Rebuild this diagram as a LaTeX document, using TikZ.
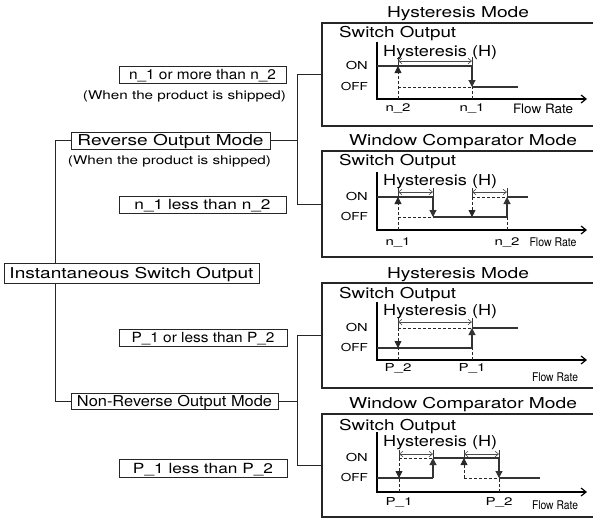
\documentclass[tikz,border=0pt]{standalone}
\usepackage{fontspec}
\setmainfont{TeX Gyre Heros}
\usepackage{graphicx}
\usetikzlibrary{arrows.meta}
\newcommand\tw[3]{{\fontsize{#1}{#1}\selectfont\resizebox{#2pt}{\height}{#3}}}
\begin{document}
\begin{tikzpicture}[x=1pt,y=-1pt,
  box/.style={draw=black!85,line width=1pt,fill=white,inner sep=0pt},
  pbox/.style={draw=black!85,line width=1.1pt,inner sep=0pt,minimum width=300pt},
  capA/.style={inner sep=0pt,text height=10.8pt,text depth=0pt},
  capB/.style={inner sep=0pt,text height=10pt,text depth=0pt},
  capC/.style={inner sep=0pt,text height=8.6pt,text depth=0pt},
  capD/.style={inner sep=0pt,text height=7.9pt,text depth=0pt},
  conn/.style={line width=1pt,black!85},
  axisline/.style={line width=1.2pt,black,-{Straight Barb[length=5pt,width=8pt]}},
  lvl/.style={line width=1.1pt,black!80},
  dsh/.style={line width=0.8pt,black!85,dash pattern=on 3pt off 2pt},
  arrowend/.style={-{Triangle[length=7pt,width=7pt]}},
  tickline/.style={line width=0.6pt,black!80},
  hy/.style={line width=0.6pt,black!70,{Straight Barb[length=3.5pt,width=5.5pt]}-{Straight Barb[length=3.5pt,width=5.5pt]}}
]
\clip (0,0) rectangle (593,520);
\fill[white] (0,0) rectangle (593,520);

% ---------- left tree ----------
\node[box,minimum width=167pt,minimum height=17pt,capB] (na) at (202.5,74.5) {\tw{14}{147}{n\_1 or more than n\_2}};
\node[capC] (wa) at (184.5,95) {\tw{12}{203}{(When the product is shipped)}};
\node[box,minimum width=199pt,minimum height=17pt,capA] (rev) at (170.5,140.5) {\tw{15}{186}{Reverse Output Mode}};
\node[capC] (wb) at (169.5,160) {\tw{12}{203}{(When the product is shipped)}};
\node[box,minimum width=167pt,minimum height=17pt,capB] (nb) at (202.5,204.5) {\tw{14}{136}{n\_1 less than n\_2}};
\node[box,minimum width=255pt,minimum height=20pt,capA] (inst) at (131.5,273.5) {\tw{15}{244}{Instantaneous Switch Output}};
\node[box,minimum width=168pt,minimum height=17pt,capB] (pa) at (203,337.5) {\tw{14}{143}{P\_1 or less than P\_2}};
\node[box,minimum width=207pt,minimum height=16pt,capA] (nrev) at (174.5,401) {\tw{15}{195}{Non-Reverse Output Mode}};
\node[box,minimum width=168pt,minimum height=18pt,capB] (pb) at (203,468) {\tw{14}{140}{P\_1 less than P\_2}};

% ---------- panels ----------
\node[pbox,minimum height=103pt] (p1) at (472,74.5) {};
\node[pbox,minimum height=106pt] (p2) at (472,204) {};
\node[pbox,minimum height=105pt] (p3) at (472,335.5) {};
\node[pbox,minimum height=103pt] (p4) at (472,465.5) {};

% ---------- connectors ----------
\coordinate (tx) at (55,0);
\coordinate (jx) at (297,0);
\draw[conn] (rev.west) -- (rev.west -| tx) -- (tx |- inst.north);
\draw[conn] (nrev.west) -- (nrev.west -| tx) -- (tx |- inst.south);
\draw[conn] (rev.east) -- (rev.east -| jx);
\draw[conn] (p1.west) -- (p1.west -| jx) -- (p2.west -| jx) -- (p2.west);
\draw[conn] (nrev.east) -- (nrev.east -| jx);
\draw[conn] (p3.west) -- (p3.west -| jx) -- (p4.west -| jx) -- (p4.west);

% ---------- panel 1 : Hysteresis Mode (reverse) ----------
\node[capA] (t1) at (458,12) {\tw{15}{142}{Hysteresis Mode}};
\node[capA,anchor=west] (s1) at (339,32) {\tw{15}{117}{Switch Output}};
\node[capA,anchor=west] (h1) at (383,51) {\tw{15}{114}{Hysteresis (H)}};
\node[capD,anchor=east] (on1) at (368,66) {\tw{11}{22}{ON}};
\node[capD,anchor=east] (of1) at (368,87) {\tw{11}{27}{OFF}};
\node[capD] (x1a) at (398,108) {\tw{11}{25}{n\_2}};
\node[capD] (x1b) at (472,108) {\tw{11}{25}{n\_1}};
\node[capB] (f1) at (543,108) {\tw{13}{60}{Flow Rate}};
\draw[axisline] (377,42) -- (377,99) -- (587,99);
\draw[lvl] (377,66) -- (472,66);
\draw[lvl,arrowend] (472,66) -- (472,87);
\draw[lvl] (472,87) -- (518,87);
\draw[dsh,arrowend] (398,99) -- (398,66);
\draw[dsh] (398,87) -- (472,87);
\draw[dsh] (472,99) -- (472,87);
\draw[tickline] (398,57) -- (398,66);
\draw[tickline] (472,57) -- (472,66);
\draw[hy] (398,61) -- (472,61);

% ---------- panel 2 : Window Comparator Mode (reverse) ----------
\node[capA] (t2) at (463,140) {\tw{15}{228}{Window Comparator Mode}};
\node[capA,anchor=west] (s2) at (339,160) {\tw{15}{117}{Switch Output}};
\node[capA,anchor=west] (h2) at (383,180) {\tw{15}{114}{Hysteresis (H)}};
\node[capD,anchor=east] (on2) at (368,197) {\tw{11}{22}{ON}};
\node[capD,anchor=east] (of2) at (368,217) {\tw{11}{27}{OFF}};
\node[capD] (x2a) at (398,242) {\tw{11}{25}{n\_1}};
\node[capD] (x2b) at (507,242) {\tw{11}{25}{n\_2}};
\node[capC] (f2) at (553,242) {\tw{12}{47}{Flow Rate}};
\draw[axisline] (377,172) -- (377,230) -- (587,230);
\draw[lvl] (377,197) -- (433,197);
\draw[lvl,arrowend] (433,197) -- (433,217);
\draw[lvl] (433,217) -- (507,217);
\draw[lvl,arrowend] (507,217) -- (507,197);
\draw[lvl] (507,197) -- (528,197);
\draw[dsh,arrowend] (398,230) -- (398,197);
\draw[dsh] (398,217) -- (433,217);
\draw[dsh] (472,197) -- (507,197);
\draw[dsh,arrowend] (472,197) -- (472,217);
\draw[dsh] (507,230) -- (507,217);
\foreach \xx in {398,433,472,507} \draw[tickline] (\xx,188) -- (\xx,197);
\draw[hy] (398,192) -- (433,192);
\draw[hy] (472,192) -- (507,192);

% ---------- panel 3 : Hysteresis Mode (non-reverse) ----------
\node[capA] (t3) at (458,273) {\tw{15}{142}{Hysteresis Mode}};
\node[capA,anchor=west] (s3) at (339,293) {\tw{15}{117}{Switch Output}};
\node[capA,anchor=west] (h3) at (383,310) {\tw{15}{114}{Hysteresis (H)}};
\node[capD,anchor=east] (on3) at (368,328) {\tw{11}{22}{ON}};
\node[capD,anchor=east] (of3) at (368,348) {\tw{11}{27}{OFF}};
\node[capD] (x3a) at (398,368) {\tw{11}{27}{P\_2}};
\node[capD] (x3b) at (472,368) {\tw{11}{27}{P\_1}};
\node[capC] (f3) at (555,377) {\tw{12}{46}{Flow Rate}};
\draw[axisline] (377,302) -- (377,360) -- (587,360);
\draw[lvl] (377,348) -- (472,348);
\draw[lvl,arrowend] (472,348) -- (472,328);
\draw[lvl] (472,328) -- (518,328);
\draw[dsh] (398,328) -- (472,328);
\draw[dsh,arrowend] (398,328) -- (398,348);
\draw[dsh] (398,360) -- (398,348);
\draw[dsh] (472,360) -- (472,348);
\draw[tickline] (398,318) -- (398,328);
\draw[tickline] (472,318) -- (472,328);
\draw[hy] (398,322) -- (472,322);

% ---------- panel 4 : Window Comparator Mode (non-reverse) ----------
\node[capA] (t4) at (463,403) {\tw{15}{228}{Window Comparator Mode}};
\node[capA,anchor=west] (s4) at (339,425) {\tw{15}{117}{Switch Output}};
\node[capA,anchor=west] (h4) at (383,441) {\tw{15}{114}{Hysteresis (H)}};
\node[capD,anchor=east] (on4) at (368,458) {\tw{11}{22}{ON}};
\node[capD,anchor=east] (of4) at (368,478) {\tw{11}{27}{OFF}};
\node[capD] (x4a) at (399,502) {\tw{11}{27}{P\_1}};
\node[capD] (x4b) at (499,502) {\tw{11}{27}{P\_2}};
\node[capC] (f4) at (555,505) {\tw{12}{46}{Flow Rate}};
\draw[axisline] (377,432) -- (377,492) -- (587,492);
\draw[lvl] (377,478) -- (433,478);
\draw[lvl,arrowend] (433,478) -- (433,458);
\draw[lvl] (433,458) -- (499,458);
\draw[lvl,arrowend] (499,458) -- (499,478);
\draw[lvl] (499,478) -- (540,478);
\draw[dsh] (399,492) -- (399,478);
\draw[dsh,arrowend] (399,458) -- (399,478);
\draw[dsh] (399,458) -- (433,458);
\draw[dsh,arrowend] (464,478) -- (464,458);
\draw[dsh] (464,478) -- (499,478);
\draw[dsh] (499,492) -- (499,478);
\foreach \xx in {399,433,464,499} \draw[tickline] (\xx,450) -- (\xx,458);
\draw[hy] (399,454) -- (433,454);
\draw[hy] (464,454) -- (499,454);
\end{tikzpicture}
\end{document}
